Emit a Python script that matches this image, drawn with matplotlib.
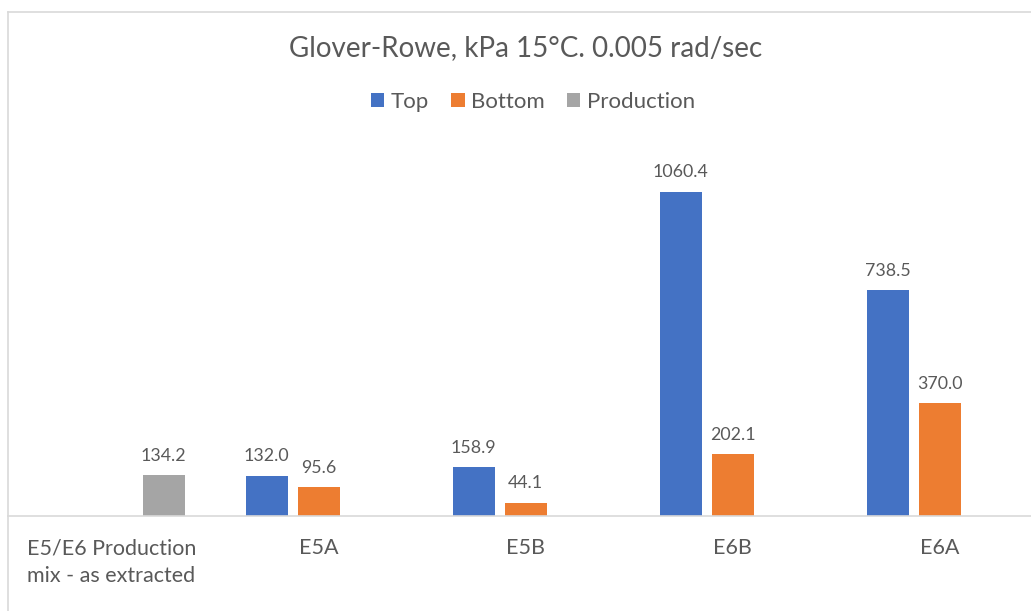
import matplotlib.pyplot as plt
from matplotlib.lines import Line2D
import numpy as np

plt.rcParams['font.family'] = ['Lato', 'DejaVu Sans']

categories = ['E5/E6 Production\nmix - as extracted', 'E5A', 'E5B', 'E6B', 'E6A']
top = [np.nan, 132.0, 158.9, 1060.4, 738.5]
bottom = [np.nan, 95.6, 44.1, 202.1, 370.0]
production = [134.2, np.nan, np.nan, np.nan, np.nan]

series = [('Top', top, '#4472C4'), ('Bottom', bottom, '#ED7D31'), ('Production', production, '#A5A5A5')]
text_col = '#595959'
grid_col = '#D9D9D9'

W, H = 1031, 611
fig = plt.figure(figsize=(W / 100, H / 100), dpi=100)

# plot area: category width 207 px, baseline at y=516 px
left_px, base_px, top_px = 8, 516, 140
ax = fig.add_axes([left_px / W, (H - base_px) / H, (W - left_px) / W, (base_px - top_px) / H])

x = np.arange(len(categories))
slot = 52 / 207
bw = 42 / 207
for i, (name, vals, col) in enumerate(series):
    xs = x + (i - 1) * slot
    ax.bar(xs, vals, width=bw, color=col, label=name, zorder=2)
    for xi, v in zip(xs, vals):
        if not np.isnan(v):
            ax.annotate(f'{v:.1f}', (xi, v), xytext=(0, 8), textcoords='offset points',
                        ha='center', va='bottom', fontsize=12.8, color=text_col)

ax.set_xlim(-0.5, -0.5 + (W - left_px) / 207)
ax.set_ylim(0, (base_px - top_px) / 0.306)
ax.set_xticks(x)
ax.set_xticklabels(categories, fontsize=15.5, color=text_col, linespacing=1.5)
ax.tick_params(axis='x', length=0, pad=16)
ax.set_yticks([])
for s in ['top', 'right', 'left']:
    ax.spines[s].set_visible(False)
ax.spines['bottom'].set_color(grid_col)
ax.spines['bottom'].set_linewidth(1.2)

cx = 526 / W
fig.text(cx, 1 - 48 / H, 'Glover-Rowe, kPa 15°C. 0.005 rad/sec', ha='center', va='center',
         fontsize=20, color=text_col)
fig.legend(loc='center', bbox_to_anchor=(533 / W, 1 - 102 / H), ncol=3, frameon=False,
           fontsize=16, handlelength=0.6, handleheight=0.6, handletextpad=0.3,
           columnspacing=1.0, labelcolor=text_col)

# chart area border (top and left edges visible)
fig.add_artist(Line2D([left_px / W, 1], [1 - 12 / H, 1 - 12 / H], color=grid_col, lw=1.2))
fig.add_artist(Line2D([left_px / W, left_px / W], [0, 1 - 12 / H], color=grid_col, lw=1.2))

fig.savefig('out.png', dpi=100)
